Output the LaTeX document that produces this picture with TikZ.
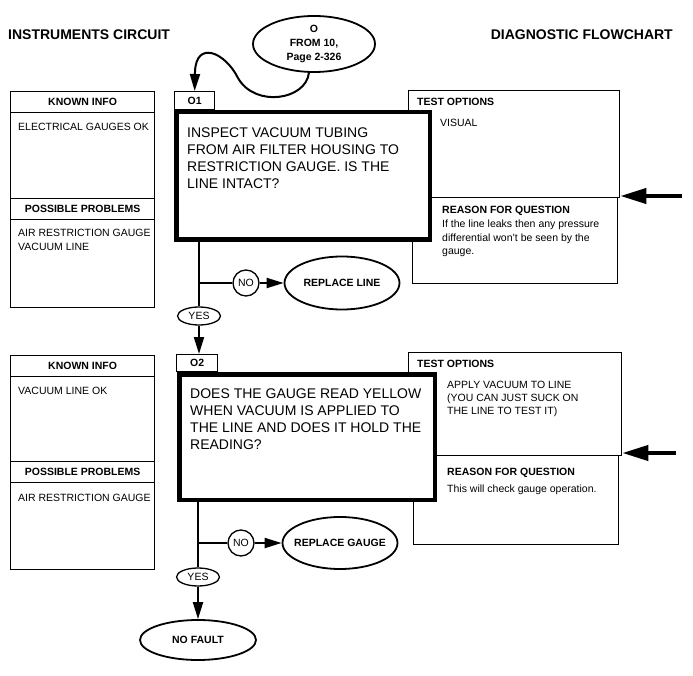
\documentclass[tikz,border=0pt]{standalone}
\usepackage{fontspec}
\setmainfont{Liberation Sans}
\usepackage{tikz}
\usetikzlibrary{positioning,shapes.geometric,arrows.meta}

\begin{document}
\begin{tikzpicture}[x=1pt,y=-1pt,
    title/.style={font=\fontsize{14}{16}\selectfont\bfseries, inner sep=0},
    hd/.style={font=\fontsize{10.5}{13}\selectfont\bfseries},
    body/.style={font=\fontsize{10.5}{14}\selectfont, align=left, inner sep=0},
    qtext/.style={font=\fontsize{14}{16.7}\selectfont, align=left, inner sep=0},
    box/.style={draw, line width=1.3pt, inner sep=0, anchor=north west},
    qbox/.style={draw, line width=4.5pt, fill=white, inner sep=0, anchor=north west},
    oval/.style={draw, ellipse, line width=1.8pt, inner ysep=0, inner xsep=-12pt,
      font=\fontsize{10.5}{14}\selectfont\bfseries, align=center},
    reply/.style={draw, ellipse, line width=1.3pt, inner sep=0, minimum width=43,
      minimum height=18, font=\fontsize{10.5}{12}\selectfont},
    nobub/.style={draw, circle, line width=1.3pt, inner sep=0, minimum size=26,
      font=\fontsize{10.5}{12}\selectfont},
    conn/.style={line width=2pt},
    arr/.style={conn, -{Triangle[length=17pt,width=10pt]}},
    feed/.style={line width=4pt, -{Triangle[length=26pt,width=15pt]}}]
  \useasboundingbox (0,0) rectangle (693,676);

  \node[title, anchor=west] (circuit) at (8,35) {INSTRUMENTS CIRCUIT};
  \node[title, anchor=east] (chart) at (673,35) {DIAGNOSTIC FLOWCHART};
  \node[oval, minimum width=122, minimum height=56] (entry) at (314,44) {O\\FROM 10,\\Page 2-326};

  % question O1
  \node[box, minimum width=144, minimum height=21, hd] (kh1) at (10,91) {KNOWN INFO};
  \node[box, minimum width=144, minimum height=86] (kb1) at (10,112) {};
  \node[box, minimum width=144, minimum height=21, hd] (ph1) at (10,198) {POSSIBLE PROBLEMS};
  \node[box, minimum width=144, minimum height=88] (pb1) at (10,219) {};
  \node[body, below right=11pt and 8pt of kb1.north west] (kt1) {ELECTRICAL GAUGES OK};
  \node[body, below right=10pt and 8pt of pb1.north west] (pt1) {AIR RESTRICTION GAUGE\\VACUUM LINE};

  \node[box, minimum width=211, minimum height=107] (t1) at (408,90) {};
  \node[box, minimum width=205, minimum height=86] (r1) at (412,197) {};
  \node[hd, inner sep=0, below right=8pt and 9pt of t1.north west] (th1) {TEST OPTIONS};
  \node[body, below right=29pt and 32pt of t1.north west] (tt1) {VISUAL};
  \node[hd, inner sep=0, below right=9pt and 30pt of r1.north west] (rh1) {REASON FOR QUESTION};
  \node[body, font=\fontsize{10.5}{13.5}\selectfont, below right=23pt and 30pt of r1.north west] (rt1)
    {If the line leaks then any pressure\\differential won't be seen by the\\gauge.};

  \node[qbox, minimum width=253.5, minimum height=127.5] (q1) at (174,110) {};
  \node[box, minimum width=40, minimum height=18, hd] (tab1) at (174,91) {O1};
  \node[qtext, below right=18pt and 13pt of q1.north west] (qt1)
    {INSPECT VACUUM TUBING\\FROM AIR FILTER HOUSING TO\\RESTRICTION GAUGE. IS THE\\LINE INTACT?};

  \node[reply] (yes1) at (199,316) {YES};
  \node[nobub] (no1) at (246,283) {NO};
  \node[oval, minimum width=115, minimum height=53] (fix1) at (342,283) {REPLACE LINE};
  \coordinate (feed1) at (682,196);

  % question O2
  \node[box, minimum width=144, minimum height=21, hd] (kh2) at (10,355) {KNOWN INFO};
  \node[box, minimum width=144, minimum height=85] (kb2) at (10,376) {};
  \node[box, minimum width=144, minimum height=21, hd] (ph2) at (10,461) {POSSIBLE PROBLEMS};
  \node[box, minimum width=144, minimum height=87] (pb2) at (10,482) {};
  \node[body, below right=11pt and 8pt of kb2.north west] (kt2) {VACUUM LINE OK};
  \node[body, below right=12pt and 8pt of pb2.north west] (pt2) {AIR RESTRICTION GAUGE};

  \node[box, minimum width=213, minimum height=103] (t2) at (408,352) {};
  \node[box, minimum width=205, minimum height=89] (r2) at (413,455) {};
  \node[hd, inner sep=0, below right=8pt and 9pt of t2.north west] (th2) {TEST OPTIONS};
  \node[body, font=\fontsize{10.5}{13}\selectfont, below right=29pt and 39pt of t2.north west] (tt2)
    {APPLY VACUUM TO LINE\\(YOU CAN JUST SUCK ON\\THE LINE TO TEST IT)};
  \node[hd, inner sep=0, below right=13pt and 34pt of r2.north west] (rh2) {REASON FOR QUESTION};
  \node[body, below right=30pt and 34pt of r2.north west] (rt2) {This will check gauge operation.};

  \node[qbox, minimum width=255.5, minimum height=125.5] (q2) at (177,372) {};
  \node[box, minimum width=41, minimum height=17, hd] (tab2) at (176,354) {O2};
  \node[qtext, below right=17pt and 13pt of q2.north west] (qt2)
    {DOES THE GAUGE READ YELLOW\\WHEN VACUUM IS APPLIED TO\\THE LINE AND DOES IT HOLD THE\\READING?};

  \node[reply] (yes2) at (198,577) {YES};
  \node[nobub] (no2) at (241,543) {NO};
  \node[oval, minimum width=115, minimum height=52] (fix2) at (340,543) {REPLACE GAUGE};
  \node[oval, minimum width=116, minimum height=40] (nofault) at (198,640) {NO FAULT};
  \coordinate (feed2) at (676,453);

  % connectors
  \draw[arr] (entry.-100) .. controls (306,100) and (255,108) .. (238,78)
    .. controls (225,52) and (196,40) .. (195,72) -- (tab1.north);
  \draw[conn] (q1.south -| yes1) -- (yes1);
  \draw[conn] (no1) -- (no1 -| yes1);
  \draw[arr] (no1) -- (fix1);
  \draw[arr] (yes1) -- (yes1 |- tab2.north);
  \draw[feed] (feed1) -- (feed1 -| t1.east);

  \draw[conn] (q2.south -| yes2) -- (yes2);
  \draw[conn] (no2) -- (no2 -| yes2);
  \draw[arr] (no2) -- (fix2);
  \draw[arr] (yes2) -- (nofault);
  \draw[feed] (feed2) -- (feed2 -| t2.east);
\end{tikzpicture}
\end{document}
